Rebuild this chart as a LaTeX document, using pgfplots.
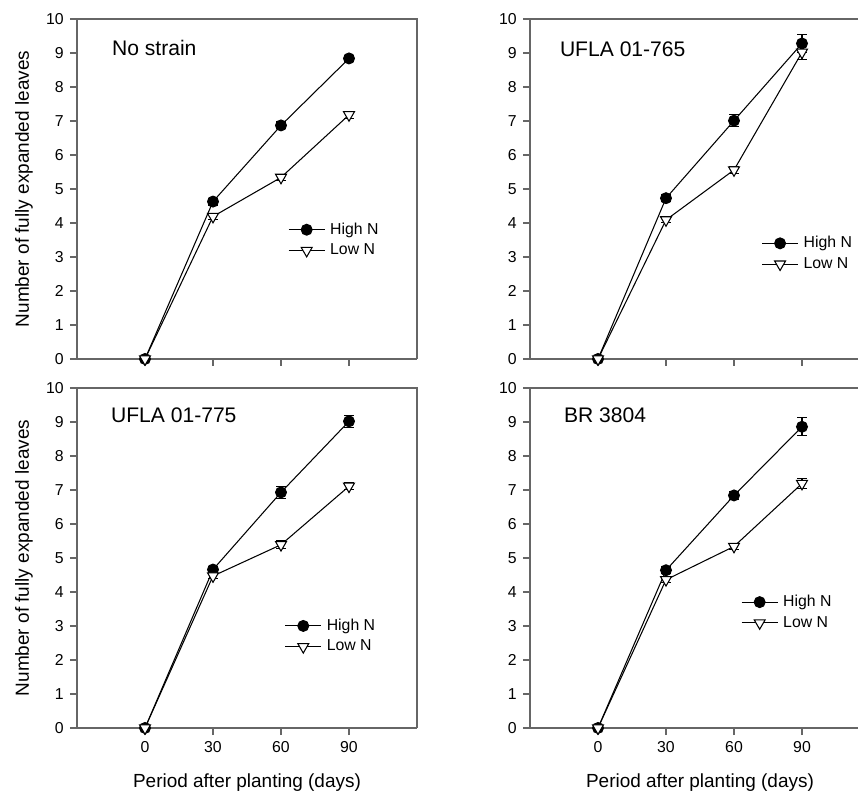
\documentclass[border=0pt]{standalone}
\usepackage{fontspec}
\setmainfont{Liberation Sans}
\usepackage{pgfplots}
\pgfplotsset{compat=1.18}

% 1 px of the reference = 0.02cm
\tikzset{ttl/.style={anchor=west, font=\fontsize{12}{14}\selectfont}}
\pgfplotsset{
  panel/.style={
    scale only axis, width=6.8cm, height=6.8cm,
    xmin=-30, xmax=120, ymin=0, ymax=10,
    axis lines*=left, axis line style={-, line width=0.6pt, black!60},
    xtick={0,30,60,90}, ytick={0,1,...,10},
    tick align=outside, major tick length=0.14cm,
    tick style={black!60, line width=0.6pt},
    tick label style={font=\fontsize{9}{11}\selectfont},
    /pgf/number format/assume math mode=true,
    every axis y label/.style={at={(rel axis cs:0,0.5)}, xshift=-1.06cm, rotate=90, anchor=center},
    every axis x label/.style={at={(rel axis cs:0.5,0)}, yshift=-1.1cm, anchor=center},
    label style={font=\fontsize{10.8}{13}\selectfont},
    legend cell align=left,
    legend style={draw=none, fill=none, font=\fontsize{9}{11}\selectfont, anchor=west,
      inner sep=0pt, row sep=0pt, nodes={inner xsep=0.1cm, inner ysep=2pt}},
    legend image code/.code={\draw[mark repeat=2, mark phase=2, #1]
      plot coordinates {(0cm,0cm) (0.36cm,0cm) (0.72cm,0cm)};},
    extra description/.code={\draw[black!60, line width=0.6pt] (0,1) -- (1,1) -- (1,0);},
    clip=false,
  },
  highN/.style={black, line width=0.6pt, mark=*, mark size=3.1pt, mark options={fill=black, solid},
    error bars/y dir=both, error bars/y explicit,
    error bars/error bar style={line width=0.6pt},
    error bars/error mark options={rotate=90, mark size=2.8pt, line width=0.6pt}},
  lowN/.style={black, line width=0.6pt, mark=triangle*, mark size=3.6pt,
    mark options={fill=white, rotate=180, solid},
    error bars/y dir=both, error bars/y explicit,
    error bars/error bar style={line width=0.6pt},
    error bars/error mark options={rotate=90, mark size=2.8pt, line width=0.6pt}},
}

\begin{document}
\begin{tikzpicture}

% ---- No strain
\begin{axis}[panel, at={(1.54cm,8.74cm)}, anchor=south west,
  xticklabels={}, ylabel={Number of fully expanded leaves},
  legend style={at={(0.62,0.35)}}]
\addplot[highN] table[x=x, y=y, y error=e] {
x y e
0 0 0
30 4.63 0.10
60 6.87 0.10
90 8.84 0.10
};
\addlegendentry{High N}
\addplot[lowN] table[x=x, y=y, y error=e] {
x y e
0 0 0
30 4.19 0.08
60 5.34 0.08
90 7.18 0.10
};
\addlegendentry{Low N}
\node[ttl] at (rel axis cs:0.085,0.915) {No strain};
\end{axis}

% ---- UFLA 01-765
\begin{axis}[panel, at={(10.6cm,8.74cm)}, anchor=south west,
  xticklabels={},
  legend style={at={(0.68,0.31)}}]
\addplot[highN] table[x=x, y=y, y error=e] {
x y e
0 0 0
30 4.73 0.10
60 7.01 0.18
90 9.28 0.26
};
\addlegendentry{High N}
\addplot[lowN] table[x=x, y=y, y error=e] {
x y e
0 0 0
30 4.09 0.08
60 5.56 0.10
90 9.02 0.20
};
\addlegendentry{Low N}
\node[ttl] at (rel axis cs:0.07,0.91) {UFLA 01-765};
\end{axis}

% ---- UFLA 01-775
\begin{axis}[panel, at={(1.54cm,1.36cm)}, anchor=south west,
  xlabel={Period after planting (days)}, ylabel={Number of fully expanded leaves},
  legend style={at={(0.61,0.27)}}]
\addplot[highN] table[x=x, y=y, y error=e] {
x y e
0 0 0
30 4.66 0.10
60 6.93 0.17
90 9.02 0.18
};
\addlegendentry{High N}
\addplot[lowN] table[x=x, y=y, y error=e] {
x y e
0 0 0
30 4.47 0.08
60 5.39 0.12
90 7.11 0.10
};
\addlegendentry{Low N}
\node[ttl] at (rel axis cs:0.082,0.92) {UFLA 01-775};
\end{axis}

% ---- BR 3804
\begin{axis}[panel, at={(10.6cm,1.36cm)}, anchor=south west,
  xlabel={Period after planting (days)},
  legend style={at={(0.62,0.34)}}]
\addplot[highN] table[x=x, y=y, y error=e] {
x y e
0 0 0
30 4.64 0.10
60 6.84 0.12
90 8.86 0.26
};
\addlegendentry{High N}
\addplot[lowN] table[x=x, y=y, y error=e] {
x y e
0 0 0
30 4.36 0.08
60 5.34 0.08
90 7.19 0.15
};
\addlegendentry{Low N}
\node[ttl] at (rel axis cs:0.082,0.92) {BR 3804};
\end{axis}

\pgfresetboundingbox
\path (0,0) rectangle (17.16,15.92);
\end{tikzpicture}
\end{document}
